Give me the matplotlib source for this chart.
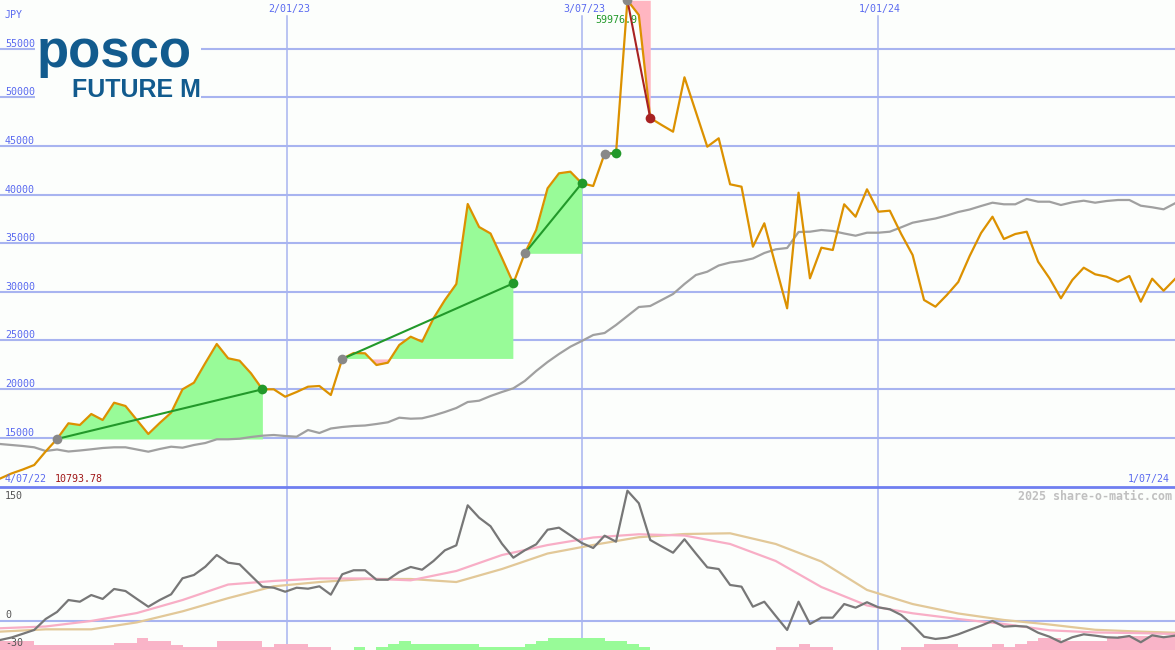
import matplotlib
matplotlib.use('Agg')
import matplotlib.pyplot as plt
from matplotlib.patches import Rectangle
from matplotlib.lines import Line2D
from matplotlib.transforms import blended_transform_factory
import numpy as np

# weekly close (JPY), one value per week
price = [10794, 11318, 11729, 12192, 13580, 14870, 16480, 16305, 17436, 16819,
         18598, 18259, 16819, 15380, 16511, 17570, 19976, 20655, 22681, 24634,
         23164, 22917, 21621, 19976, 19976, 19215, 19699, 20243, 20316, 19390,
         23100, 23709, 23678, 22475, 22712, 24532, 25385, 24871, 27277, 29159,
         30804, 39031, 36666, 35997, 33478, 30876, 33961, 36357, 40645, 42187,
         42352, 41159, 40882, 44200, 44250, 59977, 58466, 47874, 47154, 46465,
         52059, 48491, 44923, 45787, 41056, 40810, 34640, 37046, 32655, 28305,
         40193, 31390, 34537, 34300, 39000, 37725, 40542, 38239, 38342, 35946,
         33786, 29159, 28470, 29673, 31010, 33684, 36049, 37725, 35432, 35946,
         36182, 33097, 31390, 29334, 31216, 32480, 31802, 31555, 31041, 31627,
         28984, 31349, 30115, 31318]

# moving average drawn in grey
avg = [14351, 14249, 14146, 14012, 13632, 13786, 13580, 13683, 13807, 13940,
       14012, 14012, 13786, 13560, 13837, 14074, 13971, 14249, 14454, 14835,
       14835, 14896, 15071, 15205, 15277, 15174, 15102, 15791, 15483, 15945,
       16100, 16202, 16254, 16408, 16583, 17056, 16953, 16994, 17283, 17642,
       18053, 18670, 18804, 19287, 19699, 20079, 20830, 21858, 22784, 23606,
       24357, 24943, 25560, 25766, 26588, 27514, 28439, 28542, 29159, 29776,
       30804, 31730, 32069, 32707, 33015, 33169, 33426, 33992, 34372, 34506,
       36151, 36182, 36357, 36254, 35997, 35771, 36079, 36079, 36182, 36635,
       37108, 37334, 37540, 37848, 38208, 38465, 38825, 39165, 39000, 39000,
       39545, 39267, 39267, 38928, 39206, 39370, 39165, 39339, 39442, 39442,
       38856, 38692, 38486, 39103]

# lower panel oscillator
osc = [-21.7, -18.9, -14.7, -10.4, 1.9, 9.8, 23.2, 21.3, 28.8, 24.4,
       35.6, 33.3, 24.4, 15.7, 23.2, 29.6, 47.6, 51.3, 60.6, 73.7,
       65.1, 63.3, 50.7, 38.2, 37.0, 32.5, 37.0, 35.9, 38.6, 29.2,
       52.1, 56.6, 56.6, 46.0, 46.0, 54.7, 60.3, 57.2, 67.0, 79.0,
       84.6, 129.5, 115.6, 106.0, 86.4, 70.7, 79.0, 85.7, 102.1, 104.4,
       95.8, 87.2, 81.6, 95.4, 88.7, 145.9, 131.8, 90.6, 83.3, 76.3,
       91.4, 75.4, 59.9, 58.0, 40.1, 38.2, 15.7, 21.3, 5.3, -10.4,
       21.3, -3.7, 3.4, 3.4, 18.7, 14.6, 20.7, 15.0, 12.8, 6.4,
       -4.8, -18.0, -20.5, -19.1, -15.3, -10.4, -5.6, -0.3, -6.7, -5.9,
       -6.7, -13.5, -18.0, -24.2, -18.6, -15.3, -16.8, -18.6, -19.1, -17.2,
       -24.2, -16.4, -18.6, -16.8]

# smoothed lines, sampled every 4 weeks
slow_weeks = [0, 4, 8, 12, 16, 20, 24, 28, 32, 36, 40, 44, 48, 52,
              56, 60, 64, 68, 72, 76, 80, 84, 88, 92, 96, 100, 103]
osc_fast = [-8.5, -6.5, -0.3, 8.6, 23.2, 40.6, 44.6, 47.4, 47.4, 45.3, 55.8, 73.7, 84.9, 93.4,
            97.0, 95.6, 86.1, 67.0, 37.8, 17.1, 8.3, 1.9, -3.7, -10.8, -13.2, -14.0, -14.9]
osc_slow = [-12.3, -9.7, -9.7, -1.9, 10.5, 25.3, 38.6, 43.4, 46.8, 46.8, 43.4, 58.0, 75.4, 85.0,
            93.7, 97.3, 98.1, 86.1, 66.4, 34.5, 18.7, 8.1, 0.8, -4.3, -10.2, -12.3, -13.5]

# histogram at the foot of the lower panel (+ green, - pink)
hist = [-10.4, -10.4, -10.4, -5.6, -5.6, -5.6, -5.6, -5.6, -5.6, -5.6,
        -7.5, -7.5, -13.8, -10.4, -10.4, -5.6, -3.0, -3.0, -3.0, -10.4,
        -10.4, -10.4, -10.4, -3.4, -6.7, -6.7, -6.7, -3.4, -3.4, 0,
        0, 3.4, 0, 3.4, 7.1, 10.1, 7.1, 7.1, 7.1, 7.1,
        7.1, 7.1, 3.4, 3.4, 3.4, 3.4, 7.1, 10.1, 13.8, 13.8,
        13.8, 13.8, 13.8, 10.1, 10.1, 6.4, 3.0, 0, 0, 0,
        0, 0, 0, 0, 0, 0, 0, 0, -3.0, -3.0,
        -6.7, -3.0, -3.0, 0, 0, 0, 0, 0, 0, -3.0,
        -3.0, -6.7, -6.7, -6.7, -3.0, -3.0, -3.0, -6.7, -3.0, -6.7,
        -10.1, -13.8, -13.8, -10.1, -10.1, -10.1, -10.1, -13.8, -15.7, -15.7,
        -15.7, -15.7, -15.7, -15.7]

trade_in = [5, 30, 46, 53, 55]
trade_out = [23, 45, 51, 54, 57]

date_pos = [25.15, 51.05, 76.95]
date_lbl = ['2/01/23', '3/07/23', '1/01/24']
price_ticks = [15000, 20000, 25000, 30000, 35000, 40000, 45000, 50000, 55000]

W, H = 1175, 650
BG = '#fcfefc'
GRID = '#a8b4f0'
SEP = '#6f7ff0'
BLUE = '#5a6af0'
MONO = 'DejaVu Sans Mono'

fig = plt.figure(figsize=(W / 100, H / 100), dpi=100)
fig.patch.set_facecolor(BG)
ax = fig.add_axes([0, 163 / H, 1, 487 / H])
ax2 = fig.add_axes([0, 0, 1, 163 / H])
for a in (ax, ax2):
    a.set_facecolor(BG)
    a.set_xticks([])
    a.set_yticks([])
    for s in a.spines.values():
        s.set_visible(False)

x = np.arange(len(price))
p = np.array(price, dtype=float)

# ---- upper panel
ax.set_xlim(0, len(price) - 1)
ax.set_ylim(9930, 60008)
ty = blended_transform_factory(ax.transAxes, ax.transData)
for v in price_ticks:
    ax.axhline(v, color=GRID, lw=1.5, zorder=1)
    ax.text(5 / W, v, str(v), transform=ty, va='bottom', ha='left',
            fontsize=7.2, family=MONO, color=BLUE, zorder=1)
for pos, lbl in zip(date_pos, date_lbl):
    ax.axvline(pos, ymax=1 - 16 / 487, color=GRID, lw=1.1, zorder=1)
    ax.text(pos + 0.2, 1 - 9 / 487, lbl, transform=blended_transform_factory(ax.transData, ax.transAxes),
            ha='center', va='center', fontsize=7.2, family=MONO, color=BLUE)

ax.plot(x, avg, color='#a0a0a0', lw=1.6, zorder=2.5)

for a, b in zip(trade_in, trade_out):
    xs = x[a:b + 1]
    ys = p[a:b + 1]
    base = p[a]
    ax.fill_between(xs, ys, base, where=ys >= base, interpolate=True, color='#98fb98', lw=0, zorder=2)
    ax.fill_between(xs, ys, base, where=ys < base, interpolate=True, color='#ffb6c1', lw=0, zorder=2)

ax.plot(x, p, color='#dc9100', lw=1.6, zorder=3)

for a, b in zip(trade_in, trade_out):
    win = p[b] >= p[a]
    col = '#22992a' if win else '#a82222'
    ax.plot([a, b], [p[a], p[b]], color=col, lw=1.5, zorder=4)
    ax.plot(a, p[a], 'o', color='#888888', ms=7, mec='none', zorder=5, clip_on=False)
    ax.plot(b, p[b], 'o', color=col, ms=7, mec='none', zorder=5)

ax.text(5 / W, 1 - 15 / 487, 'JPY', transform=ax.transAxes, va='center', ha='left',
        fontsize=7.2, family=MONO, color=BLUE)
ax.text(5 / W, 8 / 487, '4/07/22', transform=ax.transAxes, va='center', ha='left',
        fontsize=7.2, family=MONO, color=BLUE)
ax.text(55 / W, 8 / 487, '%.2f' % 10793.78, transform=ax.transAxes, va='center', ha='left',
        fontsize=7.2, family=MONO, color='#a01818')
ax.text(1170 / W, 8 / 487, '1/07/24', transform=ax.transAxes, va='center', ha='right',
        fontsize=7.2, family=MONO, color=BLUE)
ax.text(595 / W, 1 - 20 / 487, '59976.9', transform=ax.transAxes, va='center', ha='left',
        fontsize=7.2, family=MONO, color='#22992a', zorder=6)

# logo box
ax.add_patch(Rectangle((35 / W, 1 - 101 / H), 166 / W, 71 / H, transform=fig.transFigure,
                       facecolor=BG, edgecolor='none', zorder=7))
ax.text(37 / W, 1 - 67 / H, 'posco', transform=fig.transFigure, ha='left', va='baseline',
        fontsize=38, family='Liberation Sans', fontweight='bold', color='#125b8e', zorder=8)
ax.text(72 / W, 1 - 97 / H, 'FUTURE M', transform=fig.transFigure, ha='left', va='baseline',
        fontsize=18, family='Liberation Sans', fontweight='bold', color='#125b8e', zorder=8)

# ---- lower panel
lo, hi = -32.9, 150.06
ax2.set_xlim(0, len(price) - 1)
ax2.set_ylim(lo, hi)
ax2.axhline(0, color=GRID, lw=1.5, zorder=1)
for pos in date_pos:
    ax2.axvline(pos, color=GRID, lw=1.1, zorder=1)

h = np.array(hist)
ax2.bar(x, np.abs(h), width=1, align='edge', bottom=lo, lw=0, zorder=2,
        color=['#98fb98' if v > 0 else '#f9b4c8' for v in h])
ax2.plot(slow_weeks, osc_slow, color='#e2c898', lw=1.6, zorder=3)
ax2.plot(slow_weeks, osc_fast, color='#f8aec6', lw=1.6, zorder=3)
ax2.plot(x, osc, color='#777777', lw=1.6, zorder=4)

for lbl, ypx in [('150', 496), ('0', 615), ('-30', 643)]:
    ax2.text(5 / W, (H - ypx) / 163, lbl, transform=ax2.transAxes, va='center', ha='left',
             fontsize=7.2, family=MONO, color='#555555', zorder=5)
ax2.text(1172 / W, (H - 496) / 163, '2025 share-o-matic.com', transform=ax2.transAxes,
         va='center', ha='right', fontsize=8.4, family=MONO, fontweight='bold', color='#c0c0c0')

fig.add_artist(Line2D([0, 1], [163 / H, 163 / H], transform=fig.transFigure, color=SEP, lw=2))

fig.savefig('out.png', dpi=100, facecolor=BG)
